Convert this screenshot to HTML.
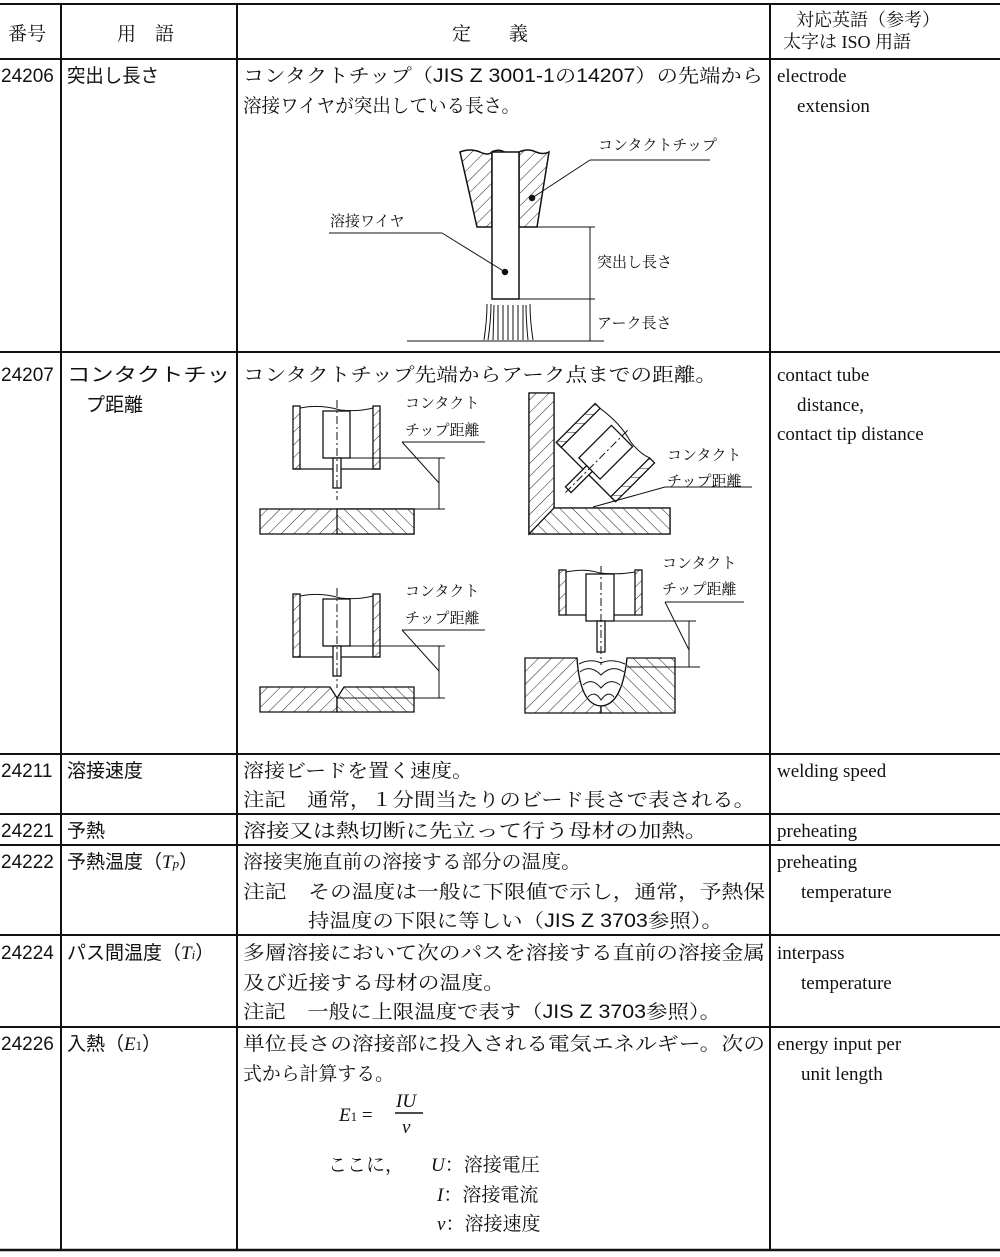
<!DOCTYPE html>
<html><head><meta charset="utf-8"><style>
html,body{margin:0;padding:0;background:#fff}
svg{display:block}
text{font-family:"Liberation Serif","Noto Serif CJK SC","Noto Sans CJK JP",serif;fill:#111}
.g text, text.g, tspan.g{font-family:"Liberation Sans","Noto Sans CJK JP",sans-serif}
.s text, text.s, tspan.s{font-family:"Liberation Serif","Noto Serif CJK SC",serif}
</style></head><body>
<svg width="1000" height="1257" viewBox="0 0 1000 1257" xmlns="http://www.w3.org/2000/svg">
<defs>
<pattern id="h1" patternUnits="userSpaceOnUse" width="9" height="9" patternTransform="rotate(45)"><rect width="9" height="9" fill="#fff"/><line x1="0" y1="0" x2="0" y2="9" stroke="#222" stroke-width="1"/></pattern>
<pattern id="h2" patternUnits="userSpaceOnUse" width="9" height="9" patternTransform="rotate(-45)"><rect width="9" height="9" fill="#fff"/><line x1="0" y1="0" x2="0" y2="9" stroke="#222" stroke-width="1"/></pattern>
</defs>
<g stroke="#111" stroke-width="2" fill="none">
<line x1="0" y1="4" x2="1000" y2="4"/>
<line x1="0" y1="59" x2="1000" y2="59"/>
<line x1="0" y1="352" x2="1000" y2="352"/>
<line x1="0" y1="754" x2="1000" y2="754"/>
<line x1="0" y1="814" x2="1000" y2="814"/>
<line x1="0" y1="845" x2="1000" y2="845"/>
<line x1="0" y1="935" x2="1000" y2="935"/>
<line x1="0" y1="1027" x2="1000" y2="1027"/>
<line x1="0" y1="1250" x2="1000" y2="1250" stroke-width="2.5"/>
<line x1="61" y1="4" x2="61" y2="1250"/>
<line x1="237" y1="4" x2="237" y2="1250"/>
<line x1="770" y1="4" x2="770" y2="1250"/>
</g>
<text x="8" y="40" font-size="19">番号</text>
<text x="117" y="40" font-size="19">用　語</text>
<text x="452" y="40" font-size="19">定　　義</text>
<text x="796" y="26" font-size="18">対応英語（参考）</text>
<text x="783" y="48" font-size="18">太字は ISO 用語</text>
<g class="g" font-size="19">
<text x="1" y="82">24206</text>
<text x="1" y="381">24207</text>
<text x="1" y="777">24211</text>
<text x="1" y="837">24221</text>
<text x="1" y="868">24222</text>
<text x="1" y="959">24224</text>
<text x="1" y="1050">24226</text>
</g>
<g class="g" font-size="19">
<text x="67" y="82" textLength="92" lengthAdjust="spacingAndGlyphs">突出し長さ</text>
<text x="67" y="381" textLength="163" lengthAdjust="spacingAndGlyphs">コンタクトチッ</text>
<text x="86" y="411">プ距離</text>
<text x="67" y="777">溶接速度</text>
<text x="67" y="837">予熱</text>
<text x="67" y="868">予熱温度（<tspan class="s" font-style="italic">T</tspan><tspan class="s" font-style="italic" font-size="13">p</tspan>）</text>
<text x="67" y="959">パス間温度（<tspan class="s" font-style="italic">T</tspan><tspan class="s" font-style="italic" font-size="13">i</tspan>）</text>
<text x="67" y="1050">入熱（<tspan class="s" font-style="italic">E</tspan><tspan class="s" font-size="13">1</tspan>）</text>
</g>
<g font-size="19">
<text x="243" y="82" textLength="520" lengthAdjust="spacingAndGlyphs">コンタクトチップ（<tspan class="g">JIS Z 3001-1</tspan>の<tspan class="g">14207</tspan>）の先端から</text>
<text x="243" y="112" textLength="277" lengthAdjust="spacingAndGlyphs">溶接ワイヤが突出している長さ。</text>
<text x="243" y="381" textLength="474" lengthAdjust="spacingAndGlyphs">コンタクトチップ先端からアーク点までの距離。</text>
<text x="243" y="777" textLength="230" lengthAdjust="spacingAndGlyphs">溶接ビードを置く速度。</text>
<text x="243" y="806" textLength="512" lengthAdjust="spacingAndGlyphs">注記　通常，１分間当たりのビード長さで表される。</text>
<text x="243" y="837" textLength="465" lengthAdjust="spacingAndGlyphs">溶接又は熱切断に先立って行う母材の加熱。</text>
<text x="243" y="868" textLength="338" lengthAdjust="spacingAndGlyphs">溶接実施直前の溶接する部分の温度。</text>
<text x="243" y="898" textLength="522" lengthAdjust="spacingAndGlyphs">注記　その温度は一般に下限値で示し，通常，予熱保</text>
<text x="308" y="927" textLength="415" lengthAdjust="spacingAndGlyphs">持温度の下限に等しい（<tspan class="g">JIS Z 3703</tspan>参照）。</text>
<text x="243" y="959" textLength="522" lengthAdjust="spacingAndGlyphs">多層溶接において次のパスを溶接する直前の溶接金属</text>
<text x="243" y="989" textLength="262" lengthAdjust="spacingAndGlyphs">及び近接する母材の温度。</text>
<text x="243" y="1018" textLength="478" lengthAdjust="spacingAndGlyphs">注記　一般に上限温度で表す（<tspan class="g">JIS Z 3703</tspan>参照）。</text>
<text x="243" y="1050" textLength="522" lengthAdjust="spacingAndGlyphs">単位長さの溶接部に投入される電気エネルギー。次の</text>
<text x="243" y="1080" textLength="151" lengthAdjust="spacingAndGlyphs">式から計算する。</text>
<text x="339" y="1121" class="s" font-style="italic">E<tspan font-size="13" font-style="normal">1</tspan><tspan font-style="normal"> =</tspan></text>
<text x="396" y="1107" class="s" font-style="italic">IU</text>
<line x1="395" y1="1113" x2="423" y2="1113" stroke="#111" stroke-width="1.5"/>
<text x="402" y="1133" class="s" font-style="italic">v</text>
<text x="328" y="1171">ここに，</text>
<text x="431" y="1171"><tspan class="s" font-style="italic">U</tspan>：溶接電圧</text>
<text x="437" y="1201"><tspan class="s" font-style="italic">I</tspan>：溶接電流</text>
<text x="437" y="1230"><tspan class="s" font-style="italic">v</tspan>：溶接速度</text>
</g>
<g class="s" font-size="19">
<text x="777" y="82">electrode</text>
<text x="797" y="112">extension</text>
<text x="777" y="381">contact tube</text>
<text x="797" y="411">distance,</text>
<text x="777" y="440">contact tip distance</text>
<text x="777" y="777">welding speed</text>
<text x="777" y="837">preheating</text>
<text x="777" y="868">preheating</text>
<text x="801" y="898">temperature</text>
<text x="777" y="959">interpass</text>
<text x="801" y="989">temperature</text>
<text x="777" y="1050">energy input per</text>
<text x="801" y="1080">unit length</text>
</g>

<g stroke="#111" stroke-width="1.5">
<path d="M460 152 Q470 148 480 152 Q488 156 492 152 L492 227 L477 227 Z" fill="url(#h1)"/>
<path d="M519 152 Q528 148 536 152 Q543 155 549 152 L537 227 L519 227 Z" fill="url(#h1)"/>
<path d="M492 152 Q499 148 506 153 Q513 155 519 152" fill="none"/>
<rect x="492" y="152" width="27" height="147" fill="#fff"/>
<g fill="none" stroke-width="1">
<line x1="537" y1="227" x2="595" y2="227"/>
<line x1="519" y1="299" x2="595" y2="299"/>
<line x1="590" y1="227" x2="590" y2="341"/>
<line x1="407" y1="341" x2="604" y2="341"/>
<line x1="532" y1="198" x2="590" y2="160"/><line x1="590" y1="160" x2="710" y2="160"/>
<line x1="329" y1="233" x2="442" y2="233"/><line x1="442" y1="233" x2="505" y2="272"/>
<path d="M484 340 Q487 320 487 304 M488 340 Q491 320 491 304 M493 340 L494 305 M498 340 L498 305 M503 340 L503 305 M508 340 L508 305 M513 340 L513 305 M518 340 L518 305 M523 340 L523 305 M528 340 Q526 320 526 305 M533 340 Q530 320 530 304"/>
</g>
<circle cx="532" cy="198" r="2.5" fill="#111"/>
<circle cx="505" cy="272" r="2.5" fill="#111"/>
</g>
<g font-size="15">
<text x="598" y="150">コンタクトチップ</text>
<text x="330" y="226">溶接ワイヤ</text>
<text x="597" y="267">突出し長さ</text>
<text x="597" y="328">アーク長さ</text>
</g>

<g stroke="#111" stroke-width="1.3">
<rect x="293" y="406" width="7" height="63" fill="url(#h1)"/>
<rect x="373" y="406" width="7" height="63" fill="url(#h1)"/>
<line x1="293" y1="469" x2="380" y2="469"/>
<path d="M300 408 Q320 404 340 410 Q358 412 373 408" fill="none" stroke-width="1"/>
<rect x="323" y="411" width="27" height="47" fill="#fff"/>
<rect x="333" y="458" width="8" height="30" fill="#fff"/>
<line x1="337" y1="400" x2="337" y2="500" stroke-dasharray="8,3,2,3" stroke-width="1"/>
<rect x="260" y="509" width="154" height="25" fill="url(#h1)"/>
<rect x="337" y="509" width="77" height="25" fill="url(#h2)"/>
<g fill="none" stroke-width="1">
<line x1="350" y1="458" x2="445" y2="458"/><line x1="414" y1="509" x2="445" y2="509"/>
<line x1="439" y1="458" x2="439" y2="509"/>
<line x1="402" y1="442" x2="485" y2="442"/><line x1="402" y1="442" x2="439" y2="483"/>
</g>
</g>
<g font-size="15"><text x="405" y="408">コンタクト</text><text x="405" y="435">チップ距離</text></g>

<g stroke="#111" stroke-width="1.3">
<path d="M529 393 L554 393 L554 508 L670 508 L670 534 L529 534 Z" fill="url(#h1)"/>
<rect x="529" y="508" width="141" height="26" fill="url(#h2)"/>
<path d="M529 393 L554 393 L554 508 L529 534 Z" fill="url(#h1)"/>
<g transform="translate(581,477) rotate(45)">
<rect x="-42" y="-62" width="7" height="55" fill="url(#h1)"/>
<rect x="35" y="-62" width="7" height="55" fill="url(#h1)"/>
<line x1="-42" y1="-7" x2="42" y2="-7"/>
<path d="M-35 -62 Q-10 -66 10 -60 Q25 -58 35 -62" fill="none" stroke-width="1"/>
<rect x="-15" y="-58" width="30" height="46" fill="#fff"/>
<rect x="-4" y="-12" width="8" height="30" fill="#fff"/>
<line x1="0" y1="-66" x2="0" y2="22" stroke-dasharray="8,3,2,3" stroke-width="1"/>
</g>
<g fill="none" stroke-width="1">
<line x1="665" y1="487" x2="752" y2="487"/><line x1="665" y1="487" x2="593" y2="507"/>
</g>
</g>
<g font-size="15"><text x="667" y="460">コンタクト</text><text x="667" y="486">チップ距離</text></g>

<g stroke="#111" stroke-width="1.3">
<rect x="293" y="594" width="7" height="63" fill="url(#h1)"/>
<rect x="373" y="594" width="7" height="63" fill="url(#h1)"/>
<line x1="293" y1="657" x2="380" y2="657"/>
<path d="M300 596 Q320 592 340 598 Q358 600 373 596" fill="none" stroke-width="1"/>
<rect x="323" y="599" width="27" height="47" fill="#fff"/>
<rect x="333" y="646" width="8" height="30" fill="#fff"/>
<line x1="337" y1="588" x2="337" y2="688" stroke-dasharray="8,3,2,3" stroke-width="1"/>
<path d="M260 687 L330 687 L337 698 L337 712 L260 712 Z" fill="url(#h1)"/>
<path d="M337 698 L344 687 L414 687 L414 712 L337 712 Z" fill="url(#h2)"/>
<g fill="none" stroke-width="1">
<line x1="350" y1="646" x2="445" y2="646"/><line x1="337" y1="698" x2="445" y2="698"/>
<line x1="439" y1="646" x2="439" y2="698"/>
<line x1="402" y1="630" x2="485" y2="630"/><line x1="402" y1="630" x2="439" y2="671"/>
</g>
</g>
<g font-size="15"><text x="405" y="596">コンタクト</text><text x="405" y="623">チップ距離</text></g>

<g stroke="#111" stroke-width="1.3">
<rect x="559" y="570" width="7" height="45" fill="url(#h1)"/>
<rect x="635" y="570" width="7" height="45" fill="url(#h1)"/>
<line x1="566" y1="615" x2="586" y2="615"/><line x1="614" y1="615" x2="635" y2="615"/>
<path d="M566 572 Q585 568 600 573 Q618 575 635 572" fill="none" stroke-width="1"/>
<rect x="586" y="574" width="28" height="47" fill="#fff"/>
<rect x="597" y="621" width="8" height="31" fill="#fff"/>
<line x1="601" y1="566" x2="601" y2="665" stroke-dasharray="8,3,2,3" stroke-width="1"/>
<path d="M525 658 L577 658 Q580 705 601 706 L601 713 L525 713 Z" fill="url(#h1)"/>
<path d="M601 706 Q622 705 627 658 L675 658 L675 713 L601 713 Z" fill="url(#h2)"/>
<g fill="none" stroke-width="1">
<path d="M577 658 Q580 705 601 706 Q622 705 627 658"/>
<path d="M580 672 Q590 664 601 675 Q612 664 624 672 M583 685 Q592 677 601 688 Q610 677 620 685 M588 697 Q595 690 601 700 Q608 690 614 697 M579 664 Q590 658 601 663 Q612 658 625 664"/>
<line x1="614" y1="621" x2="696" y2="621"/><line x1="627" y1="667" x2="700" y2="667"/>
<line x1="689" y1="621" x2="689" y2="667"/>
<line x1="665" y1="602" x2="744" y2="602"/><line x1="665" y1="602" x2="689" y2="650"/>
</g>
</g>
<g font-size="15"><text x="662" y="568">コンタクト</text><text x="662" y="594">チップ距離</text></g>
</svg>
</body></html>
